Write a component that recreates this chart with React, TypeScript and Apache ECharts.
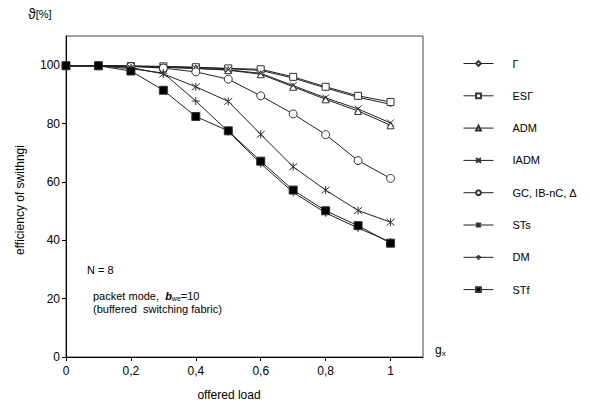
import React, { useEffect, useRef } from "react";
import * as echarts from "echarts";

const loads = [0, 0.1, 0.2, 0.3, 0.4, 0.5, 0.6, 0.7, 0.8, 0.9, 1.0];
const gamma = [99.8, 99.8, 99.7, 99.5, 99.2, 98.8, 98.2, 95.6, 92.2, 89.0, 86.6];
const esGamma = [99.8, 99.8, 99.7, 99.6, 99.3, 98.9, 98.6, 96.0, 92.6, 89.5, 87.4];
const adm = [99.8, 99.8, 99.6, 99.3, 98.9, 98.3, 96.9, 92.6, 88.3, 84.3, 79.4];
const iadm = [99.8, 99.8, 99.6, 99.3, 98.9, 98.4, 97.2, 93.0, 88.8, 85.0, 80.2];
const gc = [99.8, 99.8, 99.6, 99.0, 97.7, 95.2, 89.5, 83.3, 76.2, 67.3, 61.2];
const sts = [99.8, 99.8, 99.2, 97.0, 92.6, 87.6, 76.3, 65.2, 57.2, 50.2, 46.2];
const dm = [99.8, 99.8, 98.8, 97.3, 87.7, 77.3, 66.3, 56.4, 49.4, 44.2, 39.4];
const stf = [99.8, 99.8, 98.0, 91.4, 82.4, 77.5, 67.1, 57.2, 50.1, 45.0, 39.0];

const yTicks = [0, 20, 40, 60, 80, 100];
const xTicks = [0, 0.2, 0.4, 0.6, 0.8, 1];

const names = ["Γ", "ESΓ", "ADM", "IADM", "GC, IB-nC, Δ", "STs", "DM", "STf"];

const FONT = "Liberation Sans, Arial, sans-serif";

export default function App() {
  const ref = useRef<HTMLDivElement>(null);
  useEffect(() => {
    if (!ref.current) return;
    const chart = echarts.init(ref.current, null, { renderer: "svg" });
    const pair = (arr: number[]) => loads.map((x, i) => [x, arr[i]]);
    const lineColor = "#222";
    const mk = (
      name: string,
      data: number[],
      symbol: string,
      size: number,
      fill: string,
      z: number
    ) => ({
      type: "line",
      name,
      data: pair(data),
      symbol,
      symbolSize: size,
      showSymbol: true,
      z,
      lineStyle: { color: lineColor, width: 1 },
      itemStyle: { color: fill, borderColor: "#333", borderWidth: 1 },
      emphasis: { disabled: true },
    });
    const X = "path://M0,0L10,10M10,0L0,10";
    const AST = "path://M0,0L10,10M10,0L0,10M5,-1L5,11";
    const PLUS = "path://M5,0L5,10M0,5L10,5";
    const option: any = {
      animation: false,
      textStyle: { fontFamily: FONT },
      grid: {
        left: 66,
        top: 36,
        width: 357,
        height: 321,
        show: true,
        borderColor: "#444",
        borderWidth: 1,
        backgroundColor: "transparent",
      },
      xAxis: {
        type: "value",
        min: 0,
        max: 1.1,
        axisLine: { lineStyle: { color: "#000", width: 1 } },
        axisTick: { show: true, length: 4, inside: false, customValues: xTicks, lineStyle: { color: "#000" } },
        splitLine: { show: false },
        axisLabel: {
          customValues: xTicks,
          fontSize: 12,
          color: "#000",
          fontFamily: FONT,
          margin: 8,
          formatter: (v: number) =>
            v === 0 ? "0" : Math.abs(v - 1) < 1e-9 ? "1" : v.toFixed(1).replace(".", ","),
        },
      },
      yAxis: {
        type: "value",
        min: 0,
        max: 110,
        axisLine: { show: true, lineStyle: { color: "#000", width: 1 } },
        axisTick: { show: true, length: 4, inside: false, customValues: yTicks, lineStyle: { color: "#000" } },
        splitLine: { show: false },
        axisLabel: {
          customValues: yTicks,
          fontSize: 12,
          color: "#000",
          fontFamily: FONT,
          margin: 6,
        },
      },
      legend: {
        orient: "vertical",
        left: 463,
        top: 57,
        padding: 0,
        itemWidth: 30,
        itemHeight: 6,
        itemGap: 19.3,
        data: names,
        selectedMode: false,
        lineStyle: { width: 1 },
        textStyle: { fontSize: 11, lineHeight: 13, color: "#000", fontFamily: FONT, padding: [0, 0, 0, 14] },
      },
      series: [
        mk(names[0], gamma, "diamond", 5, "#fff", 3),
        mk(names[1], esGamma, "rect", 7, "#fff", 3),
        mk(names[2], adm, "triangle", 7, "#fff", 3),
        mk(names[3], iadm, X, 7, "#fff", 3),
        mk(names[4], gc, "circle", 8, "#fff", 3),
        mk(names[5], sts, AST, 8, "#fff", 4),
        mk(names[6], dm, PLUS, 8, "#fff", 4),
        mk(names[7], stf, "rect", 8, "#000", 5),
      ],
      graphic: [
        {
          type: "text",
          left: 28,
          top: 7,
          style: {
            text: "{a|ϑ}{b|[%]}",
            rich: {
              a: { fontSize: 14, fontFamily: FONT, fill: "#000" },
              b: { fontSize: 11, fontFamily: FONT, fill: "#000" },
            },
          },
        },
        {
          type: "text",
          x: 20,
          y: 200,
          rotation: Math.PI / 2,
          style: {
            text: "efficiency of swithngi",
            fontSize: 12,
            fontFamily: FONT,
            fill: "#000",
            align: "center",
            verticalAlign: "middle",
          },
        },
        {
          type: "text",
          x: 229,
          y: 395,
          style: {
            text: "offered load",
            fontSize: 12,
            fontFamily: FONT,
            fill: "#000",
            align: "center",
            verticalAlign: "middle",
          },
        },
        {
          type: "text",
          left: 435,
          top: 344,
          style: {
            text: "{a|g}{b|x}",
            rich: {
              a: { fontSize: 12, fontFamily: FONT, fill: "#000" },
              b: { fontSize: 8, fontFamily: FONT, fill: "#000", padding: [6, 0, 0, 0] },
            },
          },
        },
        {
          type: "text",
          left: 87,
          top: 264,
          style: { text: "N = 8", fontSize: 11, fontFamily: FONT, fill: "#000" },
        },
        {
          type: "text",
          left: 93,
          top: 290,
          style: {
            text: "{n|packet mode,  }{b|b}{s|we}{n|=10}",
            rich: {
              n: { fontSize: 11, fontFamily: FONT, fill: "#000" },
              b: { fontSize: 11, fontFamily: FONT, fill: "#000", fontWeight: "bold", fontStyle: "italic" },
              s: { fontSize: 7, fontFamily: FONT, fill: "#000", padding: [5, 0, 0, 0] },
            },
          },
        },
        {
          type: "text",
          left: 93,
          top: 303,
          style: { text: "(buffered  switching fabric)", fontSize: 11, fontFamily: FONT, fill: "#000" },
        },
      ],
    };
    chart.setOption(option);
    return () => chart.dispose();
  }, []);
  return (
    <div
      ref={ref}
      style={{ position: "absolute", left: 0, top: 0, width: 590, height: 405 }}
    />
  );
}
